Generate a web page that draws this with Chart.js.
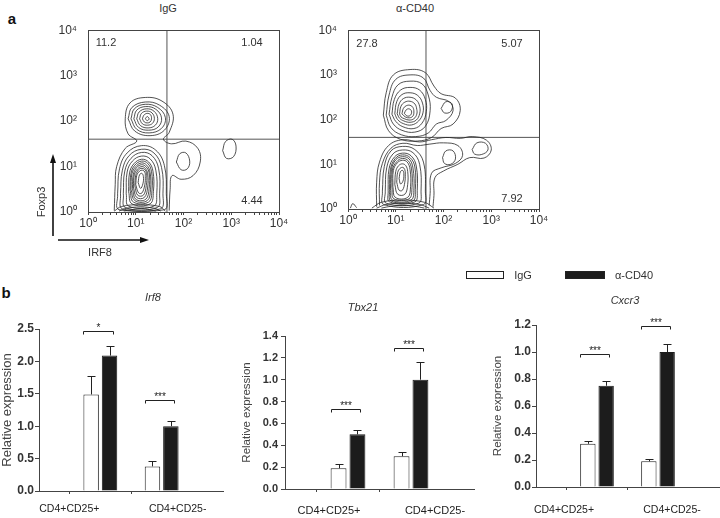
<!DOCTYPE html>
<html>
<head>
<meta charset="utf-8">
<script src="https://cdn.jsdelivr.net/npm/chart.js@4.4.1/dist/chart.umd.min.js"></script>
<style>
  body { margin: 0; background: #fff; font-family: "Liberation Sans", Arial, sans-serif; color: #333; }
  #fig { position: relative; width: 720px; height: 518px; overflow: hidden; }
  canvas { position: absolute; }
  svg { position: absolute; left: 0; top: 0; }
  .txt { position: absolute; transform: translate(-50%, -50%); white-space: nowrap; font-size: 11px; line-height: 1; }
  .it { font-style: italic; }
  .key { position: absolute; height: 8px; border: 1px solid #222; box-sizing: border-box; }
</style>
</head>
<body>
<div id="fig">
  <div class="txt" style="left:12px;top:18px;font-weight:bold;font-size:15px;color:#111">a</div>
  <div class="txt" style="left:6px;top:292px;font-weight:bold;font-size:15px;color:#111">b</div>
  <div class="txt" style="left:168px;top:8px">IgG</div>
  <div class="txt" style="left:415px;top:8px">α-CD40</div>

  <canvas id="flowIgG" width="240" height="215" style="left:50px;top:20px"></canvas>
  <canvas id="flowCD40" width="240" height="212" style="left:310px;top:20px"></canvas>

  <div class="txt" id="q0" style="left:106px;top:42px"></div>
  <div class="txt" id="q1" style="left:252px;top:42px"></div>
  <div class="txt" id="q2" style="left:252px;top:200px"></div>
  <div class="txt" id="q3" style="left:367px;top:43px"></div>
  <div class="txt" id="q4" style="left:512px;top:43px"></div>
  <div class="txt" id="q5" style="left:512px;top:198px"></div>

  <svg width="720" height="518">
    <line x1="53" y1="236" x2="53" y2="162" stroke="#111" stroke-width="1.6"/>
    <polygon points="53,154 50,163 56,163" fill="#111"/>
    <line x1="58" y1="240" x2="141" y2="240" stroke="#111" stroke-width="1.6"/>
    <polygon points="149,240 140,237 140,243" fill="#111"/>
  </svg>
  <div class="txt" style="left:41px;top:202px;transform:translate(-50%,-50%) rotate(-90deg)">Foxp3</div>
  <div class="txt" style="left:100px;top:252px">IRF8</div>

  <div class="key" style="left:466px;top:271px;width:38px;background:#fff"></div>
  <div class="txt" style="left:523px;top:275px">IgG</div>
  <div class="key" style="left:565px;top:271px;width:40px;background:#1c1c1c"></div>
  <div class="txt" style="left:634px;top:275px">α-CD40</div>

  <div class="txt it" style="left:153px;top:297px">Irf8</div>
  <div class="txt it" style="left:363px;top:307px">Tbx21</div>
  <div class="txt it" style="left:625px;top:300px">Cxcr3</div>

  <canvas id="barIrf8" width="230" height="208" style="left:0px;top:310px"></canvas>
  <canvas id="barTbx21" width="240" height="208" style="left:240px;top:310px"></canvas>
  <canvas id="barCxcr3" width="229" height="208" style="left:491px;top:310px"></canvas>
</div>

<script>
// ---- panel a: flow cytometry (IRF8 vs Foxp3), contour rings in log10 units ----
const flowTicks = [1, 10, 100, 1000, 10000];
const flowTickLabels = ['10⁰', '10¹', '10²', '10³', '10⁴'];
const gateX = [45, 43];   // IRF8 gate, IgG / α-CD40
const gateY = [40, 40];   // Foxp3 gate
const quadIgG = ['11.2', '1.04', '4.44'];
const quadCD40 = ['27.8', '5.07', '7.92'];

const igGRings = [
  // Foxp3+ population
  [[0.84,2.05],[0.92,2.3],[1.2,2.42],[1.5,2.35],[1.7,2.1],[1.6,1.8],[1.3,1.68],[0.98,1.78]],
  [[0.9,2.05],[0.97,2.27],[1.2,2.37],[1.46,2.3],[1.62,2.08],[1.54,1.84],[1.28,1.74],[1.02,1.82]],
  [[0.96,2.05],[1.02,2.24],[1.21,2.32],[1.42,2.26],[1.54,2.07],[1.47,1.87],[1.27,1.8],[1.06,1.86]],
  [[1.02,2.05],[1.07,2.2],[1.22,2.27],[1.38,2.22],[1.46,2.06],[1.41,1.91],[1.26,1.85],[1.1,1.9]],
  [[1.08,2.05],[1.12,2.17],[1.23,2.22],[1.34,2.18],[1.39,2.06],[1.35,1.95],[1.25,1.91],[1.14,1.94]],
  [[1.14,2.05],[1.17,2.13],[1.24,2.17],[1.31,2.14],[1.33,2.05],[1.3,1.98],[1.24,1.96],[1.18,1.98]],
  [[1.2,2.05],[1.24,2.1],[1.28,2.05],[1.24,2.01]],
  // Foxp3- population
  [[0.62,0.4],[0.66,0.95],[0.82,1.3],[1.12,1.46],[1.42,1.36],[1.6,1.02],[1.64,0.4],[1.6,0.05],[0.65,0.05]],
  [[0.68,0.4],[0.72,0.92],[0.86,1.24],[1.12,1.38],[1.38,1.3],[1.54,0.98],[1.57,0.4],[1.52,0.07],[0.72,0.07]],
  [[0.74,0.4],[0.77,0.9],[0.9,1.18],[1.12,1.31],[1.34,1.24],[1.48,0.95],[1.5,0.4],[1.45,0.1],[0.78,0.1]],
  [[0.8,0.4],[0.82,0.88],[0.93,1.12],[1.12,1.23],[1.3,1.17],[1.42,0.92],[1.44,0.4],[1.38,0.13],[0.85,0.13]],
  [[0.85,0.45],[0.87,0.86],[0.96,1.06],[1.12,1.16],[1.27,1.1],[1.36,0.9],[1.37,0.45],[1.3,0.18],[0.92,0.18]],
  [[0.88,0.48],[0.9,0.85],[0.98,1.03],[1.12,1.12],[1.25,1.07],[1.33,0.89],[1.34,0.48],[1.27,0.22],[0.95,0.22]],
  [[0.9,0.5],[0.92,0.84],[1.0,1.0],[1.12,1.08],[1.23,1.03],[1.3,0.87],[1.31,0.5],[1.24,0.25],[0.98,0.25]],
  [[0.93,0.52],[0.95,0.83],[1.02,0.98],[1.12,1.04],[1.21,1.0],[1.28,0.86],[1.28,0.52],[1.21,0.28],[1.0,0.28]],
  [[0.95,0.55],[0.97,0.82],[1.04,0.95],[1.13,1.0],[1.2,0.96],[1.25,0.84],[1.25,0.55],[1.18,0.32],[1.02,0.32]],
  [[0.98,0.58],[1.0,0.81],[1.06,0.93],[1.13,0.96],[1.2,0.92],[1.23,0.81],[1.22,0.58],[1.16,0.37],[1.04,0.37]],
  [[1.0,0.6],[1.02,0.8],[1.08,0.9],[1.14,0.92],[1.19,0.88],[1.2,0.78],[1.19,0.6],[1.13,0.42],[1.06,0.42]],
  [[1.05,0.65],[1.08,0.82],[1.13,0.85],[1.16,0.78],[1.15,0.62],[1.1,0.52]],
  // IRF8+ shoulder and isolated event cluster
  [[1.85,1.1],[1.92,1.28],[2.05,1.3],[2.13,1.12],[2.08,0.95],[1.95,0.93]],
  [[2.82,1.35],[2.88,1.55],[3.02,1.6],[3.1,1.45],[3.05,1.22],[2.9,1.18]]
];
const igGOpen = [
  [[0.55,0.03],[0.57,0.6],[0.6,1.0],[0.78,1.4],[1.02,1.56],[0.84,1.72],[0.78,2.05],[0.88,2.4],[1.2,2.52],[1.55,2.44],[1.78,2.15],[1.7,1.75],[1.58,1.6],[1.75,1.5],[2.05,1.56],[2.3,1.4],[2.35,1.1],[2.2,0.8],[1.95,0.72],[1.76,0.8],[1.72,0.5],[1.7,0.03]],
  [[0.55,0.02],[0.7,0.12],[1.1,0.16],[1.5,0.12],[1.62,0.02]],
  [[0.65,0.02],[0.8,0.08],[1.1,0.11],[1.4,0.08],[1.52,0.02]],
  [[0.75,0.02],[0.9,0.05],[1.1,0.07],[1.3,0.05],[1.42,0.02]]
];

const cd40Rings = [
  // Foxp3+ population
  [[0.8,2.1],[0.86,2.55],[1.0,2.9],[1.3,3.0],[1.58,2.93],[1.72,2.65],[1.85,2.5],[2.12,2.4],[2.2,2.2],[2.05,1.98],[1.85,1.9],[1.68,1.7],[1.42,1.62],[1.12,1.66],[0.9,1.82]],
  [[0.86,2.12],[0.92,2.5],[1.05,2.78],[1.3,2.86],[1.55,2.8],[1.68,2.55],[1.72,2.2],[1.62,1.85],[1.4,1.72],[1.13,1.76],[0.95,1.9]],
  [[0.92,2.12],[0.97,2.45],[1.1,2.66],[1.3,2.72],[1.5,2.66],[1.62,2.45],[1.64,2.18],[1.55,1.92],[1.38,1.8],[1.15,1.84],[1.0,1.96]],
  [[0.98,2.13],[1.02,2.4],[1.13,2.56],[1.3,2.6],[1.46,2.54],[1.56,2.37],[1.57,2.15],[1.48,1.97],[1.33,1.88],[1.16,1.91],[1.04,2.0]],
  [[1.03,2.13],[1.07,2.35],[1.16,2.47],[1.3,2.5],[1.43,2.44],[1.5,2.3],[1.5,2.13],[1.43,1.99],[1.3,1.94],[1.17,1.97],[1.08,2.03]],
  [[1.08,2.13],[1.11,2.3],[1.19,2.39],[1.3,2.41],[1.4,2.35],[1.44,2.23],[1.44,2.12],[1.38,2.02],[1.28,1.99],[1.18,2.02],[1.11,2.06]],
  [[1.13,2.13],[1.16,2.25],[1.22,2.31],[1.3,2.32],[1.36,2.27],[1.38,2.17],[1.36,2.08],[1.29,2.04],[1.2,2.06]],
  [[1.18,2.14],[1.22,2.22],[1.28,2.24],[1.33,2.19],[1.31,2.1],[1.24,2.08]],
  [[1.95,2.25],[2.05,2.4],[2.18,2.35],[2.15,2.18],[2.02,2.15]],
  // Foxp3- population
  [[0.72,0.4],[0.76,0.95],[0.9,1.3],[1.14,1.4],[1.4,1.33],[1.58,1.05],[1.62,0.4],[1.58,0.1],[0.75,0.1]],
  [[0.78,0.4],[0.81,0.92],[0.94,1.23],[1.14,1.32],[1.36,1.26],[1.5,1.0],[1.53,0.4],[1.48,0.13],[0.8,0.13]],
  [[0.84,0.42],[0.86,0.9],[0.97,1.16],[1.14,1.25],[1.32,1.19],[1.43,0.96],[1.45,0.42],[1.4,0.16],[0.87,0.16]],
  [[0.87,0.44],[0.89,0.89],[0.99,1.13],[1.14,1.21],[1.3,1.15],[1.4,0.94],[1.41,0.44],[1.36,0.18],[0.9,0.18]],
  [[0.89,0.45],[0.91,0.88],[1.0,1.1],[1.14,1.17],[1.28,1.12],[1.36,0.92],[1.38,0.45],[1.32,0.2],[0.93,0.2]],
  [[0.92,0.48],[0.93,0.87],[1.02,1.06],[1.14,1.13],[1.26,1.08],[1.33,0.9],[1.34,0.48],[1.28,0.23],[0.96,0.23]],
  [[0.94,0.5],[0.95,0.86],[1.03,1.03],[1.14,1.09],[1.24,1.05],[1.3,0.88],[1.31,0.5],[1.25,0.26],[0.99,0.26]],
  [[0.98,0.55],[1.0,0.84],[1.06,0.97],[1.14,1.01],[1.21,0.97],[1.25,0.84],[1.25,0.55],[1.19,0.33],[1.04,0.33]],
  [[1.02,0.6],[1.04,0.82],[1.09,0.91],[1.15,0.93],[1.19,0.88],[1.2,0.78],[1.19,0.6],[1.14,0.42],[1.07,0.42]],
  [[1.07,0.68],[1.1,0.84],[1.15,0.86],[1.17,0.76],[1.15,0.62],[1.1,0.56]],
  // IRF8+ tail
  [[2.6,1.33],[2.7,1.48],[2.88,1.47],[2.93,1.32],[2.8,1.22],[2.65,1.23]],
  [[1.98,1.15],[2.05,1.3],[2.2,1.3],[2.25,1.12],[2.15,1.0],[2.02,1.02]]
];
const cd40Open = [
  [[0.74,2.1],[0.8,2.6],[0.95,3.0],[1.3,3.12],[1.62,3.05],[1.8,2.75],[1.95,2.58],[2.25,2.48],[2.35,2.2],[2.2,1.9],[1.95,1.8],[1.75,1.6],[1.45,1.52],[1.1,1.56],[0.85,1.75],[0.74,2.1]],
  [[0.6,0.05],[0.6,0.6],[0.66,1.05],[0.85,1.42],[1.15,1.55],[1.5,1.5],[1.75,1.55],[2.05,1.6],[2.35,1.58],[2.6,1.62],[2.9,1.54],[3.0,1.32],[2.85,1.14],[2.55,1.15],[2.3,1.0],[2.0,0.85],[1.82,0.7],[1.8,0.3],[1.78,0.05]],
  [[0.66,0.08],[0.66,0.6],[0.72,1.02],[0.9,1.36],[1.15,1.47],[1.45,1.42],[1.7,1.45],[2.0,1.48],[2.3,1.42],[2.4,1.2],[2.25,1.02],[1.95,0.92],[1.75,0.8],[1.72,0.35],[1.7,0.08]],
  [[0.5,0.02],[0.7,0.15],[1.15,0.2],[1.6,0.15],[1.8,0.02]],
  [[0.6,0.02],[0.8,0.1],[1.15,0.13],[1.5,0.1],[1.7,0.02]],
  [[0.7,0.02],[0.9,0.06],[1.15,0.08],[1.4,0.06],[1.6,0.02]],
  [[0.05,0.02],[0.1,0.12],[0.18,0.03]]
];

// ---- panel b: qPCR relative expression ----
const cellTypes = ['CD4+CD25+', 'CD4+CD25-'];
const groups = ['IgG', 'α-CD40'];
const irf8IgG = [1.49, 0.38];
const irf8CD40 = [2.09, 1.0];
const irf8IgGErr = [0.29, 0.09];
const irf8CD40Err = [0.15, 0.08];
const irf8Sig = [2.47, 1.41];
const irf8Marks = ['*', '***'];
const tbx21IgG = [0.19, 0.30];
const tbx21CD40 = [0.50, 1.0];
const tbx21IgGErr = [0.035, 0.04];
const tbx21CD40Err = [0.04, 0.16];
const tbx21Sig = [0.735, 1.29];
const tbx21Marks = ['***', '***'];
const cxcr3IgG = [0.32, 0.19];
const cxcr3CD40 = [0.75, 1.0];
const cxcr3IgGErr = [0.02, 0.015];
const cxcr3CD40Err = [0.035, 0.06];
const cxcr3Sig = [0.985, 1.19];
const cxcr3Marks = ['***', '***'];

const FAM = '"Liberation Sans", Arial, sans-serif';
const flowMinor = [];
for (let d = 1; d < 10000; d *= 10) for (let m = 2; m < 10; m++) flowMinor.push(d * m);

quadIgG.concat(quadCD40).forEach((t, i) => { document.getElementById('q' + i).textContent = t; });

const frame = {
  id: 'frame',
  afterDatasetsDraw(chart) {
    const {ctx, chartArea: a} = chart;
    ctx.save();
    ctx.strokeStyle = '#444';
    ctx.lineWidth = 1;
    ctx.strokeRect(Math.round(a.left) + 0.5, Math.round(a.top) + 0.5, Math.round(a.right - a.left), Math.round(a.bottom - a.top));
    ctx.restore();
  }
};

function flowChart(id, rings, open, gx, gy) {
  const toPts = r => r.map(p => ({x: 10 ** p[0], y: 10 ** p[1]}));
  const line = (data, color, w, t) => ({data, showLine: true, pointRadius: 0, borderColor: color, borderWidth: w, tension: t, fill: false});
  const datasets = [
    ...rings.map(r => line(toPts([...r, r[0]]), '#262626', 0.8, 0.4)),
    ...open.map(r => line(toPts(r), '#262626', 0.8, 0.4)),
    line([{x: gx, y: 1}, {x: gx, y: 10000}], '#555', 1, 0),
    line([{x: 1, y: gy}, {x: 10000, y: gy}], '#555', 1, 0)
  ];
  const label = v => { const i = flowTicks.indexOf(v); return i >= 0 ? flowTickLabels[i] : ''; };
  new Chart(document.getElementById(id), {
    type: 'scatter',
    data: {datasets},
    options: {
      responsive: false, animation: false, events: [],
      layout: {padding: {top: 7, right: 11, left: 0, bottom: 0}},
      plugins: {legend: {display: false}, tooltip: {enabled: false}},
      scales: {
        x: {
          type: 'logarithmic', min: 1, max: 10000,
          afterBuildTicks: s => { s.ticks = flowTicks.concat(flowMinor).sort((a, b) => a - b).map(v => ({value: v})); },
          afterFit: s => { s.height = 23; },
          grid: {drawOnChartArea: false, tickLength: 3, color: '#444'},
          border: {color: '#444'},
          ticks: {autoSkip: false, maxRotation: 0, padding: 1, color: '#333', font: {size: 12, family: FAM}, callback: label}
        },
        y: {
          type: 'logarithmic', min: 1, max: 10000,
          afterBuildTicks: s => { s.ticks = flowTicks.map(v => ({value: v})); },
          afterFit: s => { s.width = 38; },
          grid: {display: false},
          border: {color: '#444'},
          ticks: {autoSkip: false, padding: 3, color: '#333', font: {size: 12, family: FAM}, callback: label}
        }
      }
    },
    plugins: [frame]
  });
}

flowChart('flowIgG', igGRings, igGOpen, gateX[0], gateY[0]);
flowChart('flowCD40', cd40Rings, cd40Open, gateX[1], gateY[1]);

function barChart(o) {
  const pad = v => [null, ...v, null];
  const extras = {
    id: 'extras',
    afterDatasetsDraw(chart) {
      const {ctx} = chart;
      const y = chart.scales.y, x = chart.scales.x;
      ctx.save();
      ctx.strokeStyle = '#222';
      ctx.fillStyle = '#222';
      ctx.lineWidth = 1;
      [[o.igg, o.iggErr], [o.cd40, o.cd40Err]].forEach(([vals, errs], d) => {
        chart.getDatasetMeta(d).data.forEach((bar, i) => {
          if (i === 0 || i > vals.length) return;
          const top = Math.round(y.getPixelForValue(vals[i - 1] + errs[i - 1])) + 0.5;
          const cx = Math.round(bar.x) + 0.5;
          ctx.beginPath();
          ctx.moveTo(cx, bar.y); ctx.lineTo(cx, top);
          ctx.moveTo(cx - 4, top); ctx.lineTo(cx + 4, top);
          ctx.stroke();
        });
      });
      ctx.font = '10px ' + FAM;
      ctx.textAlign = 'center';
      ctx.textBaseline = 'alphabetic';
      o.sig.forEach((lvl, i) => {
        const w = chart.getDatasetMeta(0).data[i + 1], b = chart.getDatasetMeta(1).data[i + 1];
        const x0 = Math.round(w.x - w.width / 2) + 0.5, x1 = Math.round(b.x + 3) + 0.5;
        const yy = Math.round(y.getPixelForValue(lvl)) + 0.5;
        ctx.beginPath();
        ctx.moveTo(x0, yy + 3); ctx.lineTo(x0, yy); ctx.lineTo(x1, yy); ctx.lineTo(x1, yy + 3);
        ctx.stroke();
        ctx.fillText(o.marks[i], (x0 + x1) / 2, yy - 1);
      });
      ctx.font = o.labelSize + 'px ' + FAM;
      ctx.textBaseline = 'middle';
      cellTypes.forEach((c, i) => {
        ctx.fillText(c, x.getPixelForTick(i + 1) + o.shift[i], chart.chartArea.bottom + o.labelDy);
      });
      ctx.restore();
    }
  };
  new Chart(document.getElementById(o.id), {
    type: 'bar',
    data: {
      labels: ['', ...cellTypes, ''],
      datasets: [
        {label: groups[0], data: pad(o.igg), backgroundColor: '#fff', borderColor: '#222', borderWidth: 1, categoryPercentage: 0.6, barPercentage: 0.84},
        {label: groups[1], data: pad(o.cd40), backgroundColor: '#1c1c1c', borderColor: '#1c1c1c', borderWidth: 1, categoryPercentage: 0.6, barPercentage: 0.84}
      ]
    },
    options: {
      responsive: false, animation: false, events: [],
      layout: {padding: {top: o.padTop, right: o.padRight, left: 0, bottom: 0}},
      plugins: {legend: {display: false}, tooltip: {enabled: false}},
      scales: {
        x: {
          offset: false,
          afterFit: s => { s.height = o.xh; },
          grid: {drawOnChartArea: false, tickLength: 3, tickColor: c => (c.index === 0 || c.index === 3) ? 'rgba(0,0,0,0)' : '#444'},
          border: {color: '#444'},
          ticks: {display: false}
        },
        y: {
          min: 0, max: o.max,
          afterFit: s => { s.width = o.yw; },
          grid: {drawOnChartArea: false, tickLength: 4, color: '#444'},
          border: {color: '#444'},
          ticks: {stepSize: o.step, padding: o.tickPad, color: '#333', font: {size: o.tickSize, weight: 'bold', family: FAM}, callback: v => v.toFixed(1)},
          title: {display: true, text: 'Relative expression', color: '#444', padding: 0, font: {size: o.titleSize, family: FAM}}
        }
      }
    },
    plugins: [extras]
  });
}

barChart({id: 'barIrf8', igg: irf8IgG, cd40: irf8CD40, iggErr: irf8IgGErr, cd40Err: irf8CD40Err, sig: irf8Sig, marks: irf8Marks,
  max: 2.5, step: 0.5, padTop: 19, padRight: 7, yw: 39, xh: 27, tickSize: 12, tickPad: 1, titleSize: 13, labelSize: 10.5, shift: [-31, 16], labelDy: 18});
barChart({id: 'barTbx21', igg: tbx21IgG, cd40: tbx21CD40, iggErr: tbx21IgGErr, cd40Err: tbx21CD40Err, sig: tbx21Sig, marks: tbx21Marks,
  max: 1.4, step: 0.2, padTop: 26, padRight: 6, yw: 45, xh: 29, tickSize: 11, tickPad: 3, titleSize: 11.5, labelSize: 11, shift: [-19, 24], labelDy: 22});
barChart({id: 'barCxcr3', igg: cxcr3IgG, cd40: cxcr3CD40, iggErr: cxcr3IgGErr, cd40Err: cxcr3CD40Err, sig: cxcr3Sig, marks: cxcr3Marks,
  max: 1.2, step: 0.2, padTop: 15, padRight: 1, yw: 45, xh: 31, tickSize: 12, tickPad: 1, titleSize: 11.5, labelSize: 10.5, shift: [-33, 14], labelDy: 23});
</script>
</body>
</html>
